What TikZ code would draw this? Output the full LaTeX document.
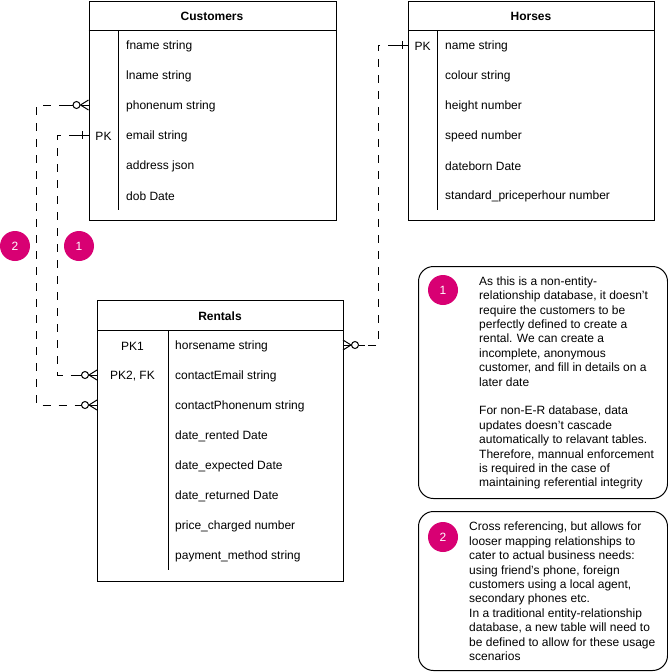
\documentclass[tikz,border=0pt]{standalone}
\usepackage{fontspec}
\setmainfont{Liberation Sans}
\definecolor{badgecol}{HTML}{D80073}
\newcommand{\twelve}{\fontsize{12}{14.4}\selectfont}
\newcommand{\apos}{\char"0027\relax}
\tikzset{
  ent/.style={draw, line width=1pt, inner sep=0pt, anchor=north west},
  fld/.style={anchor=west, inner sep=0pt, yshift=-1pt, font=\twelve},
  keyt/.style={anchor=center, inner sep=0pt, yshift=-1pt, font=\twelve},
  hdr/.style={anchor=center, inner sep=0pt, yshift=-1pt, font=\twelve\bfseries},
  mk/.style={line width=1pt},
  rel/.style={line width=1pt, dash pattern=on 8pt off 8pt},
  badge/.style={circle, fill=badgecol, minimum size=30pt, inner sep=0pt, text=white, font=\twelve},
  note/.style={draw, rounded corners=15pt, line width=1pt, anchor=north west, inner sep=0pt},
  notetxt/.style={align=left, anchor=west, inner sep=0pt, yshift=-1pt, font=\twelve},
  pics/zmany/.style={code={
    \draw[mk] (0,-5) -- (-8,0) -- (0,5);
    \draw[mk] (-8,0) -- (0,0);
    \draw[mk] (-12,0) circle (3.5);
    \draw[mk] (-15.5,0) -- (-22,0);
  }},
  pics/onebar/.style={code={
    \draw[mk] (0,0) -- (-12,0);
    \draw[mk] (-6,-4) -- (-6,4);
  }}
}
\begin{document}
\begin{tikzpicture}[x=1pt,y=-1pt]
\useasboundingbox (0,0) rectangle (668,672);

% ---------- Customers ----------
\node[ent, minimum width=247pt, minimum height=219pt] (cust) at (88.5,0.5) {};
\draw[mk] (88.5,30) -- (335.5,30);
\draw[mk] (118,30) -- (118,210);
\node[hdr] (custh) at (212,15) {Customers};
\node[fld] (c1) at (126,45) {fname string};
\node[fld] (c2) at (126,75) {lname string};
\node[fld] (c3) at (126,105) {phonenum string};
\node[fld] (c4) at (126,135) {email string};
\node[fld] (c5) at (126,165) {address json};
\node[fld] (c6) at (126,195) {dob Date};
\node[keyt] (ck) at (103.5,135) {PK};

% ---------- Horses ----------
\node[ent, minimum width=246pt, minimum height=219pt] (hors) at (408,0.5) {};
\draw[mk] (408,30) -- (654,30);
\draw[mk] (437,30) -- (437,210);
\node[hdr] (horsh) at (531,15) {Horses};
\node[fld] (h1) at (445,45) {name string};
\node[fld] (h2) at (445,75) {colour string};
\node[fld] (h3) at (445,105) {height number};
\node[fld] (h4) at (445,135) {speed number};
\node[fld] (h5) at (445,165) {dateborn Date};
\node[fld] (h6) at (445,195) {standard\_priceperhour number};
\node[keyt] (hk) at (422.5,45) {PK};

% ---------- Rentals ----------
\node[ent, minimum width=246pt, minimum height=281pt] (rent) at (97,299.5) {};
\draw[mk] (97,330) -- (343,330);
\draw[mk] (168,330) -- (168,570);
\node[hdr] (renth) at (220,315) {Rentals};
\node[fld] (r1) at (175,345) {horsename string};
\node[fld] (r2) at (175,375) {contactEmail string};
\node[fld] (r3) at (175,405) {contactPhonenum string};
\node[fld] (r4) at (175,435) {date\_rented Date};
\node[fld] (r5) at (175,465) {date\_expected Date};
\node[fld] (r6) at (175,495) {date\_returned Date};
\node[fld] (r7) at (175,525) {price\_charged number};
\node[fld] (r8) at (175,555) {payment\_method string};
\node[keyt] (rk1) at (132.5,345) {PK1};
\node[keyt] (rk2) at (132.5,375) {PK2, FK};

% ---------- connection points ----------
\coordinate (c-phone) at (88.5,105);
\coordinate (c-email) at (88.5,135);
\coordinate (h-name) at (408,45);
\coordinate (r-horse) at (343,345);
\coordinate (r-email) at (97,375);
\coordinate (r-phone) at (97,405);

% markers
\pic at (c-phone) {zmany};
\pic at (c-email) {onebar};
\pic at (h-name) {onebar};
\pic at (r-email) {zmany};
\pic at (r-phone) {zmany};
\pic[xscale=-1] at (r-horse) {zmany};

% dashed relationships
\draw[rel] ([xshift=-22pt]c-phone) -- ++(-30,0) |- ([xshift=-22pt]r-phone);
\draw[rel] ([xshift=-12pt]c-email) -- ++(-19,0) |- ([xshift=-22pt]r-email);
\draw[rel] ([xshift=-12pt]h-name) -- ++(-18,0) |- ([xshift=22pt]r-horse);

% ---------- badges ----------
\node[badge] (lb2) at (15,246) {2};
\node[badge] (lb1) at (79,246) {1};

% ---------- notes ----------
\node[note, minimum width=249pt, minimum height=232pt] (n1) at (418,266) {};
\node[badge] (nb1) at (443,290) {1};
\node[notetxt] (t1) at (479,382) {As this is a non-entity-\\
relationship database, it doesn\apos t\\
require the customers to be\\
perfectly defined to create a\\
rental. We can create a\\
incomplete, anonymous\\
customer, and fill in details on a\\
later date\\[14.4pt]
For non-E-R database, data\\
updates doesn\apos t cascade\\
automatically to relavant tables.\\
Therefore, mannual enforcement\\
is required in the case of\\
maintaining referential integrity};

\node[note, minimum width=249pt, minimum height=159pt] (n2) at (418,511) {};
\node[badge] (nb2) at (443,537) {2};
\node[notetxt] (t2) at (469,590.5) {Cross referencing, but allows for\\
looser mapping relationships to\\
cater to actual business needs:\\
using friend\apos s phone, foreign\\
customers using a local agent,\\
secondary phones etc.\\
In a traditional entity-relationship\\
database, a new table will need to\\
be defined to allow for these usage\\
scenarios};
\end{tikzpicture}
\end{document}
